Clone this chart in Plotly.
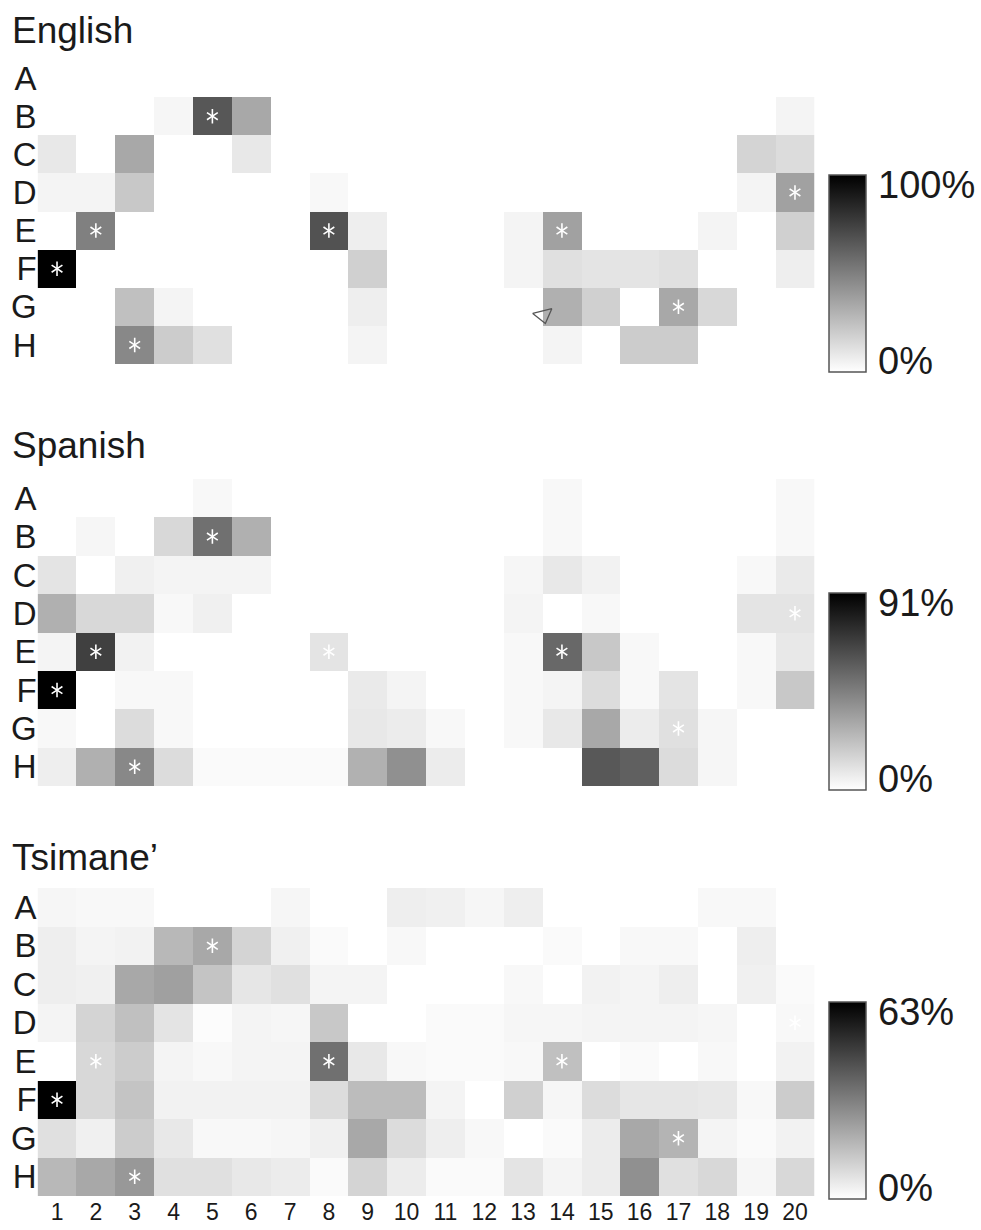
import plotly.graph_objects as go

# Stimulus rows (A-H) and response columns (1-20)
rows = ["A", "B", "C", "D", "E", "F", "G", "H"]
cols = list(range(1, 21))

# Percentage of responses per cell, one list per row (columns 1..20)
english_pct = [
    [0, 0, 0, 0, 0, 0, 0, 0, 0, 0, 0, 0, 0, 0, 0, 0, 0, 0, 0, 0],
    [0, 0, 0, 3.5, 66, 34, 0, 0, 0, 0, 0, 0, 0, 0, 0, 0, 0, 0, 0, 4.3],
    [9, 0, 34, 0, 0, 9, 0, 0, 0, 0, 0, 0, 0, 0, 0, 0, 0, 0, 17, 13.7],
    [4.3, 4.3, 21.6, 0, 0, 0, 0, 2.7, 0, 0, 0, 0, 0, 0, 0, 0, 0, 0, 4.3, 37],
    [0, 50, 0, 0, 0, 0, 0, 68, 6.7, 0, 0, 0, 4.3, 37, 0, 0, 0, 4.3, 0, 18.4],
    [100, 0, 0, 0, 0, 0, 0, 0, 18.4, 0, 0, 0, 4.3, 12, 10.6, 10.6, 12, 0, 0, 6.7],
    [0, 0, 24.7, 4.3, 0, 0, 0, 0, 6.7, 0, 0, 0, 0, 31, 18.4, 0, 34, 15.3, 0, 0],
    [0, 0, 46.7, 20, 12, 0, 0, 0, 4.3, 0, 0, 0, 0, 4.3, 0, 20, 20, 0, 0, 0],
]
spanish_pct = [
    [0, 0, 0, 0, 2.5, 0, 0, 0, 0, 0, 0, 0, 0, 2.5, 0, 0, 0, 0, 0, 2.5],
    [0, 3.2, 0, 13.9, 51, 28.2, 0, 0, 0, 0, 0, 0, 0, 2.5, 0, 0, 0, 0, 0, 2.5],
    [9.6, 0, 5.4, 3.9, 3.9, 3.9, 0, 0, 0, 0, 0, 0, 3.2, 8.2, 4.6, 0, 0, 0, 2.5, 7.5],
    [28.2, 13.9, 13.9, 2.5, 5.4, 0, 0, 0, 0, 0, 0, 0, 3.9, 0, 2.5, 0, 0, 0, 9.6, 9.6],
    [3.9, 68, 4.6, 0, 0, 0, 0, 9.6, 0, 0, 0, 0, 2.5, 53.9, 19.6, 2.5, 0, 0, 2.5, 8.2],
    [91, 0, 2.5, 2.5, 0, 0, 0, 0, 7.5, 3.9, 0, 0, 2.5, 3.9, 12.5, 2.5, 9.6, 0, 2.5, 19.6],
    [2.5, 0, 12.5, 2.5, 0, 0, 0, 0, 8.2, 6.8, 2.5, 0, 2.5, 8.2, 31, 6.8, 11, 3.2, 0, 0],
    [6.1, 28.2, 42.5, 12.5, 1.8, 1.8, 1.8, 1.8, 28, 39.6, 6.8, 0, 0, 0, 59.6, 56.7, 12.5, 3.2, 0, 0],
]
tsimane_pct = [
    [2.2, 1.7, 1.7, 0, 0, 0, 2.2, 0, 0, 4.2, 3.7, 2.2, 4.2, 0, 0, 0, 0, 1.7, 1.7, 0],
    [4.2, 2.7, 3.2, 17.5, 21.5, 10.6, 3.7, 1.2, 0, 1.7, 0, 0, 0, 1.2, 0, 1.7, 1.7, 0, 4.2, 0],
    [4.2, 3.7, 21.5, 23.5, 14.6, 6.2, 7.7, 2.7, 2.7, 0, 0, 0, 1.7, 0, 3.2, 2.7, 4.2, 0, 3.7, 1.2],
    [2.7, 10.6, 15.6, 6.7, 0.7, 2.7, 2.2, 13.6, 0, 0, 1.2, 1.2, 2.2, 2.2, 2.7, 2.7, 2.7, 2.2, 0, 1.7],
    [0, 9.6, 12.6, 2.7, 1.7, 2.7, 2.7, 35.3, 5.7, 1.7, 1.2, 1.2, 1.7, 15.6, 0, 1.2, 0, 1.7, 0, 3.2],
    [63, 9.6, 14.6, 3.2, 3.2, 3.2, 3.2, 8.6, 16.6, 16.6, 2.7, 0, 11.6, 2.2, 8.6, 6.2, 6.2, 5.7, 1.7, 12.6],
    [7.7, 3.7, 12.6, 5.7, 1.7, 1.7, 2.2, 3.7, 21.5, 8.6, 4.2, 1.7, 0, 1.2, 4.7, 21.5, 18.5, 2.7, 1.2, 3.2],
    [17.5, 21.5, 25.4, 7.7, 7.7, 5.7, 4.7, 1.2, 10.6, 4.7, 1.2, 1.2, 6.7, 2.7, 4.7, 27.4, 7.7, 9.6, 2.2, 9.6],
]

panel_titles = ["English", "Spanish", "Tsimane\u2019"]
panel_max = [100, 91, 63]
panel_data = [english_pct, spanish_pct, tsimane_pct]

# Cells marked with an asterisk (same cells in every panel)
star_cells = [("B", 5), ("D", 20), ("E", 2), ("E", 8), ("E", 14), ("F", 1), ("G", 17), ("H", 3)]
# Cell next to which the open triangle sits (English panel)
triangle_cell = ("G", 14)

W, H = 981, 1230
FONT = "Liberation Sans, Arial, Helvetica, sans-serif"
INK = "#1a1a1a"

# Pixel layout of each panel: (grid top, grid bottom, title centre, colourbar top)
grid_left, grid_right = 37.6, 814.4
panel_px = [
    (59, 364, 30, 175),
    (479, 786, 445, 593),
    (888, 1196, 858, 1002),
]
cbar_left, cbar_thick, cbar_len = 829, 37, 197


def fx(p):
    return p / W


def fy(p):
    return 1 - p / H


fig = go.Figure()
annotations = []

for i, (title, vmax, z) in enumerate(zip(panel_titles, panel_max, panel_data)):
    n = i + 1
    sfx = "" if n == 1 else str(n)
    top, bottom, title_y, cb_top = panel_px[i]
    ca = "coloraxis" + sfx

    fig.add_trace(go.Heatmap(
        z=z, x=cols, y=list(range(1, len(rows) + 1)),
        coloraxis=ca, xaxis="x" + sfx, yaxis="y" + sfx,
        xgap=0, ygap=0, hoverinfo="skip",
    ))

    # six-armed white asterisks built from two three-armed symbols
    sx = [c for _, c in star_cells]
    sy = [rows.index(r) + 1 for r, _ in star_cells]
    for sym in ("y-up-open", "y-down-open"):
        fig.add_trace(go.Scatter(
            x=sx, y=sy, mode="markers", xaxis="x" + sfx, yaxis="y" + sfx,
            marker=dict(symbol=sym, size=9, color="white",
                        line=dict(color="white", width=1.6)),
            showlegend=False, hoverinfo="skip",
        ))

    if i == 0:
        tr, tc = triangle_cell
        fig.add_trace(go.Scatter(
            x=[tc - 0.48], y=[rows.index(tr) + 1 + 0.22], mode="markers",
            xaxis="x", yaxis="y",
            marker=dict(symbol="triangle-down-open", size=17, angle=-14,
                        color="#555555", line=dict(color="#555555", width=1.3)),
            showlegend=False, hoverinfo="skip",
        ))

    fig.layout[ca] = dict(
        cmin=0, cmax=vmax,
        colorscale=[[0, "#ffffff"], [1, "#000000"]],
        colorbar=dict(
            x=fx(cbar_left), xanchor="left", xpad=0,
            y=fy(cb_top), yanchor="top", ypad=0,
            thickness=cbar_thick, len=cbar_len, lenmode="pixels",
            outlinewidth=1.5, outlinecolor="#555555",
            showticklabels=False, ticks="",
        ),
    )

    fig.layout["xaxis" + sfx] = dict(
        domain=[fx(grid_left), fx(grid_right)], range=[0.5, 20.5],
        anchor="y" + sfx, showgrid=False, zeroline=False, showline=False,
        ticks="", tickvals=cols, showticklabels=(n == 3),
        tickfont=dict(family=FONT, size=23, color=INK),
    )
    fig.layout["yaxis" + sfx] = dict(
        domain=[fy(bottom), fy(top)], range=[8.5, 0.5],
        anchor="x" + sfx, showgrid=False, zeroline=False, showline=False,
        ticks="", tickvals=list(range(1, 9)), ticktext=rows,
        tickfont=dict(family=FONT, size=33, color=INK),
    )

    annotations.append(dict(
        text=title, x=fx(10), y=fy(title_y), xref="paper", yref="paper",
        xanchor="left", yanchor="middle", showarrow=False,
        font=dict(family=FONT, size=37, color=INK),
    ))
    annotations.append(dict(
        text=f"{vmax}%", x=fx(876), y=fy(cb_top + 10), xref="paper", yref="paper",
        xanchor="left", yanchor="middle", showarrow=False,
        font=dict(family=FONT, size=38, color=INK),
    ))
    annotations.append(dict(
        text="0%", x=fx(876), y=fy(cb_top + cbar_len - 11), xref="paper", yref="paper",
        xanchor="left", yanchor="middle", showarrow=False,
        font=dict(family=FONT, size=38, color=INK),
    ))

fig.update_layout(
    width=W, height=H, margin=dict(l=0, r=0, t=0, b=0),
    paper_bgcolor="white", plot_bgcolor="white",
    showlegend=False, annotations=annotations,
)

fig.write_html("out.html")
